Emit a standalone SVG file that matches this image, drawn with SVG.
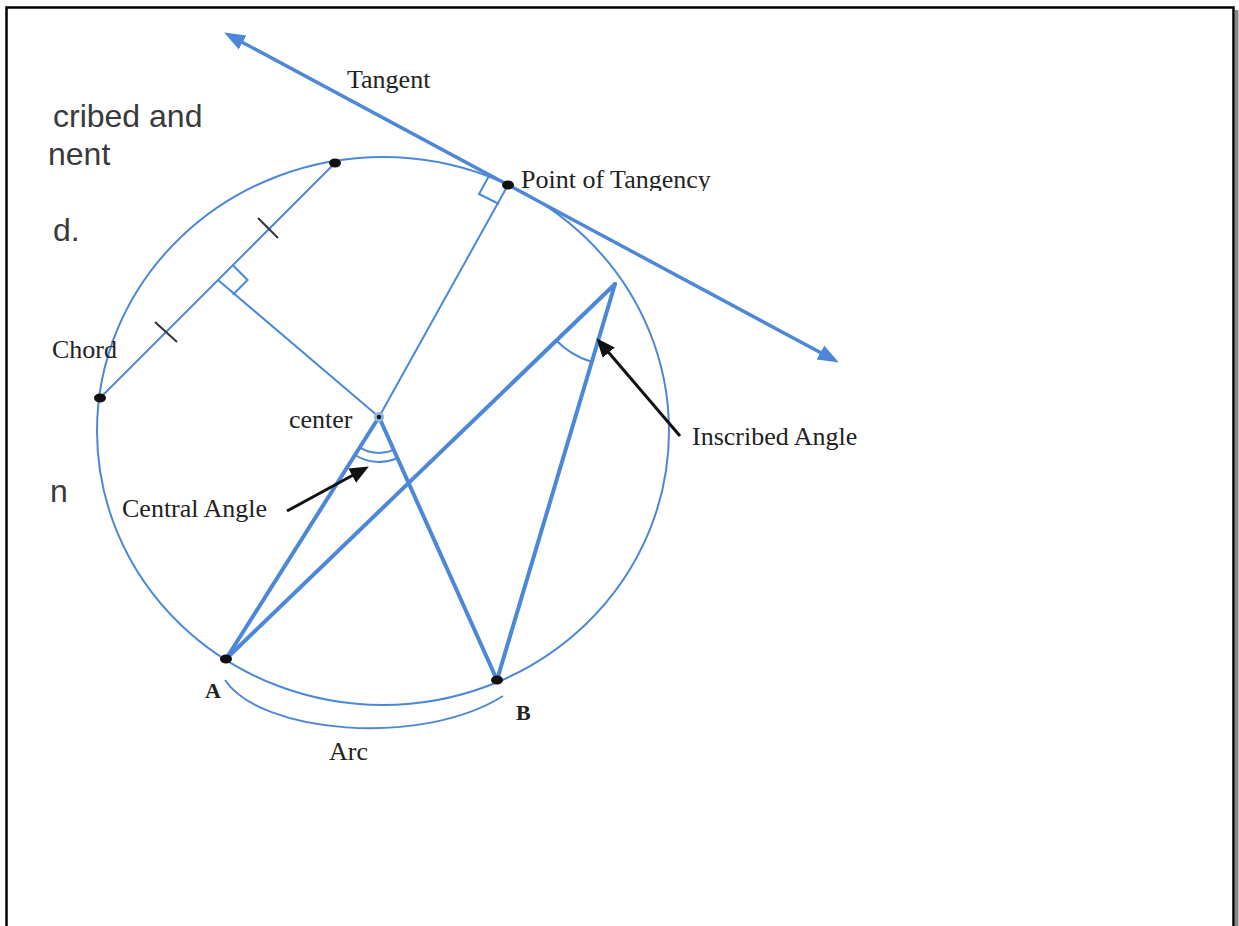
<svg xmlns="http://www.w3.org/2000/svg" width="1239" height="926" viewBox="0 0 1239 926">
<style>
.blue{fill:none;stroke:#4d88d8;stroke-width:2}
.thick{fill:none;stroke:#4d88d8;stroke-width:4;stroke-linecap:round}
.tick{stroke:#333;stroke-width:2}
.dot{fill:#111}
.serif{font-family:"Liberation Serif","Times New Roman",serif;font-size:26px;fill:#222}
.bold{font-family:"Liberation Serif","Times New Roman",serif;font-size:22px;font-weight:bold;fill:#222}
.sans{font-family:"Liberation Sans",Arial,sans-serif;font-size:32px;fill:#3a3a3a}
.ptr{stroke:#111;stroke-width:3;fill:none}
</style>
<defs>
<marker id="bhead" markerUnits="userSpaceOnUse" markerWidth="22" markerHeight="18" refX="10" refY="8" orient="auto-start-reverse" viewBox="0 0 22 16">
<path d="M0,0 L21,8 L0,16 z" fill="#4d88d8"/>
</marker>
<marker id="khead" markerUnits="userSpaceOnUse" markerWidth="20" markerHeight="18" refX="9" refY="8" orient="auto" viewBox="0 0 20 16">
<path d="M0,0 L19,8 L0,16 z" fill="#111"/>
</marker>
<clipPath id="ptclip"><rect x="510" y="150" width="240" height="41"/></clipPath>
</defs>
<rect width="1239" height="926" fill="#fff"/>
<g id="frame">
<rect x="1235" y="10" width="3.5" height="916" fill="#888"/>
<path d="M6.5,926 V7.5 H1233.5 V926" fill="none" stroke="#000" stroke-width="2.5"/>
</g>
<g id="side-text">
<text class="sans" x="53" y="127">cribed and</text>
<text class="sans" x="48" y="165">nent</text>
<text class="sans" x="53" y="241">d.</text>
<text class="sans" x="50" y="502">n</text>
</g>
<g id="circle"><ellipse cx="383" cy="431" rx="286" ry="274" class="blue" stroke-width="2.5"/></g>
<g id="connectors">
<line id="tangent-line" x1="233.8" y1="37.7" x2="829.2" y2="357.3" stroke="#4d88d8" stroke-width="3.5" marker-start="url(#bhead)" marker-end="url(#bhead)"/>
<line id="chord" x1="100" y1="398" x2="335" y2="163" class="blue"/>
<line id="perp" x1="218" y1="280" x2="379" y2="417" class="blue"/>
<line id="radius" x1="379" y1="417" x2="508" y2="185" class="blue"/>
<path id="sq1" d="M232.8,265.2 L247.6,280 L232.8,294.8" class="blue"/>
<path id="sq2" d="M499,204 L479,194 L489,176" class="blue"/>
<line class="tick" x1="258" y1="218" x2="278" y2="238"/>
<line class="tick" x1="155" y1="322" x2="177" y2="342"/>
<line class="thick" x1="226" y1="659" x2="379" y2="417"/>
<line class="thick" x1="379" y1="417" x2="497" y2="680"/>
<line class="thick" x1="226" y1="659" x2="615" y2="284"/>
<line class="thick" x1="497" y1="680" x2="615" y2="284"/>
<path d="M359.8,447.4 A36,36 0 0 0 393.7,449.8" class="blue"/>
<path d="M355,455 A45,45 0 0 0 397.4,458" class="blue"/>
<path d="M556.4,340.5 A80,80 0 0 0 591.3,361.7" class="blue"/>
<path id="arc-label" d="M225,680 C260,733 420,748 503,696" class="blue" stroke-width="2.5"/>
<line class="ptr" x1="287" y1="511" x2="360.1" y2="471.3" marker-end="url(#khead)"/>
<line class="ptr" x1="680" y1="436" x2="602.9" y2="345.8" marker-end="url(#khead)"/>
</g>
<g id="points">
<ellipse class="dot" cx="335" cy="163" rx="6" ry="4.5"/>
<ellipse class="dot" cx="100" cy="398" rx="6" ry="4.5"/>
<ellipse class="dot" cx="508" cy="185" rx="6" ry="4.5"/>
<ellipse class="dot" cx="226" cy="659" rx="6" ry="4.5"/>
<ellipse class="dot" cx="497" cy="680" rx="6" ry="4.5"/>
<circle cx="379" cy="417" r="5" fill="#8fb4e6"/>
<circle cx="379" cy="417" r="2.2" fill="#111"/>
</g>
<g id="labels">
<text class="serif" x="347" y="88">Tangent</text>
<text class="serif" x="521" y="188" clip-path="url(#ptclip)">Point of Tangency</text>
<text class="serif" x="52" y="358">Chord</text>
<text class="serif" x="289" y="428">center</text>
<text class="serif" x="122" y="517">Central Angle</text>
<text class="serif" x="692" y="445">Inscribed Angle</text>
<text class="bold" x="205" y="698">A</text>
<text class="bold" x="516" y="720">B</text>
<text class="serif" x="329" y="760">Arc</text>
</g>
</svg>
